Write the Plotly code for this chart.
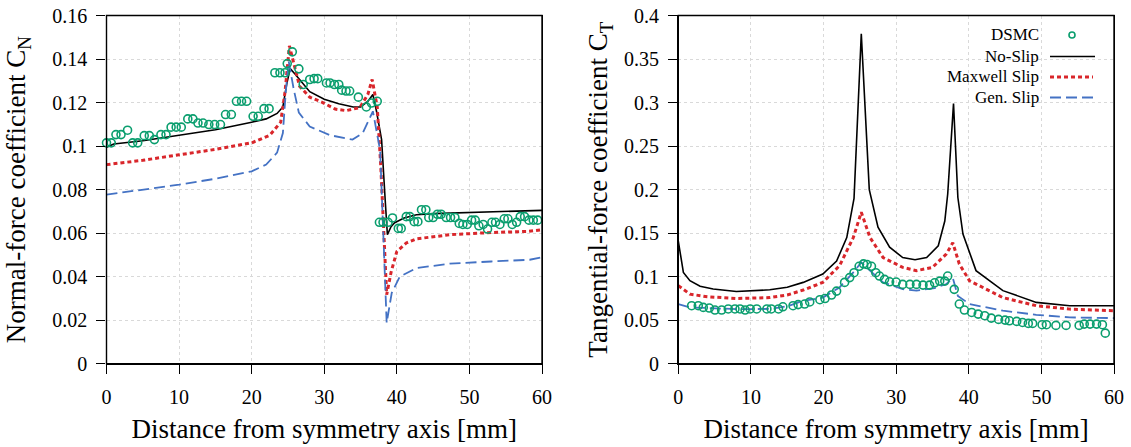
import plotly.graph_objects as go

# ---------------- data: normal-force coefficient (left) ----------------
cn_noslip_x = [0, 1, 5, 10, 15, 20, 22, 23.5, 24.3, 24.8, 25.3, 26, 27, 28, 30, 32, 34, 35, 36, 36.7,
               37.2, 37.9, 38.4, 38.7, 39.2, 39.7, 41, 42.7, 45, 50, 55, 60]
cn_noslip_y = [0.0995, 0.101, 0.1025, 0.105, 0.1075, 0.111, 0.1125, 0.115, 0.118, 0.128, 0.1356, 0.133,
               0.129, 0.125, 0.1215, 0.1195, 0.118, 0.118, 0.1205, 0.1237,
               0.116, 0.103, 0.075, 0.0593, 0.063, 0.0648, 0.067, 0.0685, 0.069, 0.0695, 0.0698, 0.0705]

cn_maxwell_x = [0, 5, 10, 15, 20, 22.5, 24, 24.6, 25.2, 25.8, 26.6, 28, 29.8, 31.5, 33, 34.9, 36, 36.6,
                37.3, 37.8, 38.3, 38.6, 39.2, 40, 41.3, 42.7, 47.3, 53, 58, 60]
cn_maxwell_y = [0.0915, 0.0935, 0.096, 0.0985, 0.1015, 0.105, 0.111, 0.125, 0.146, 0.138, 0.1275, 0.1225,
                0.12, 0.117, 0.1163, 0.1177, 0.1237, 0.1306,
                0.118, 0.09, 0.05, 0.0317, 0.042, 0.0516, 0.0555, 0.0574, 0.0593, 0.0603, 0.0608, 0.0616]

cn_gen_x = [0, 5, 10, 15, 20, 22, 23.5, 24.3, 24.7, 25.1, 25.8, 26.5, 28, 30.8, 33.9, 35.3, 36.7,
            37.7, 38.2, 38.6, 39.3, 40.4, 42.7, 47.3, 53, 58.3, 60]
cn_gen_y = [0.0777, 0.080, 0.0823, 0.085, 0.0884, 0.0915, 0.097, 0.106, 0.125, 0.139, 0.126, 0.1154,
            0.109, 0.105, 0.103, 0.106, 0.116,
            0.098, 0.055, 0.0188, 0.0326, 0.040, 0.044, 0.046, 0.047, 0.0478, 0.049]

cn_dsmc_x = [0, 0.65, 1.3, 2, 2.9, 3.6, 4.3, 5.2, 5.9, 6.6, 7.5, 8.2, 8.9, 9.6, 10.3, 11.2, 11.9, 12.6,
             13.3, 14.1, 14.9, 15.7, 16.4, 17.2, 17.9, 18.6, 19.3, 20.2, 20.9, 21.7, 22.4, 23.2, 23.9,
             24.6, 24.9, 25.6, 26.5, 27.1, 28, 28.6, 29.1, 30.3, 30.8, 31.4, 32, 32.4, 33, 33.5, 34.7,
             35.8, 36.5, 37.3, 37.6, 38.1, 38.8, 39.4, 40.2, 40.6, 41.3, 41.8, 42.4, 42.9, 43.4, 44,
             44.4, 45, 45.6, 46.1, 46.8, 47.4, 48, 48.6, 49.1, 49.7, 50.3, 50.8, 51.3, 51.9, 52.5, 53.1,
             53.6, 54.2, 54.8, 55.3, 55.9, 56.5, 57, 57.6, 58.2, 58.8, 59.4]
cn_dsmc_y = [0.1015, 0.1015, 0.1053, 0.1053, 0.1073, 0.1015, 0.1015, 0.1048, 0.1048, 0.103, 0.1053,
             0.1053, 0.1087, 0.1087, 0.1087, 0.1125, 0.1125, 0.1106, 0.1106, 0.1099, 0.1099, 0.1099,
             0.1145, 0.1145, 0.1206, 0.1206, 0.1206, 0.1137, 0.1137, 0.1172, 0.1172, 0.1337, 0.1337,
             0.1337, 0.1379, 0.1433, 0.1355, 0.1283, 0.1306, 0.131, 0.131, 0.129, 0.129, 0.1283, 0.1283,
             0.1257, 0.1253, 0.1253, 0.1225, 0.118, 0.1198, 0.1206, 0.065, 0.065, 0.065, 0.067, 0.0622,
             0.0622, 0.0676, 0.0676, 0.0653, 0.0653, 0.0708, 0.0708, 0.0672, 0.0672, 0.0687, 0.0687,
             0.0672, 0.0672, 0.0672, 0.0645, 0.064, 0.064, 0.066, 0.066, 0.0634, 0.064, 0.0619, 0.065,
             0.065, 0.064, 0.0666, 0.0666, 0.064, 0.065, 0.0676, 0.0676, 0.066, 0.066, 0.066]

# ---------------- data: tangential-force coefficient (right) ----------------
ct_noslip_x = [0, 0.7, 1.6, 3, 4.8, 8, 12.6, 15, 17.2, 19.9, 21.8, 23.2, 24.2, 25.2, 26.3, 27.5, 29.1,
               30.9, 32.6, 34.2, 35.8, 36.7, 37.1, 37.9, 38.5, 39.2, 41, 44.7, 49.3, 53.9, 60]
ct_noslip_y = [0.141, 0.105, 0.0954, 0.089, 0.086, 0.083, 0.085, 0.088, 0.0935, 0.103, 0.118, 0.145,
               0.19, 0.379, 0.2, 0.157, 0.134, 0.122, 0.1195, 0.122, 0.1356, 0.164, 0.195, 0.299,
               0.191, 0.149, 0.107, 0.084, 0.0705, 0.0667, 0.0667]

ct_maxwell_x = [0, 1.6, 4, 8, 12.6, 15, 17.2, 19.9, 22.2, 24.1, 25.2, 26.4, 28.2, 30.9, 32.8, 35, 36.9,
                37.8, 38.7, 40.1, 44.7, 49.3, 53.9, 60]
ct_maxwell_y = [0.0897, 0.080, 0.077, 0.075, 0.076, 0.079, 0.0847, 0.0935, 0.1126, 0.145, 0.174, 0.145,
                0.122, 0.1107, 0.107, 0.1107, 0.126, 0.139, 0.1146, 0.0954, 0.076, 0.0667, 0.0628, 0.061]

ct_gen_x = [0, 1.6, 8, 12.6, 15, 17.2, 19.9, 22.2, 24.1, 25.2, 26.4, 28.2, 30.9, 32.8, 35.3, 36.9,
            37.8, 38.5, 40.1, 44.7, 49.3, 53.9, 60]
ct_gen_y = [0.0686, 0.0648, 0.0628, 0.063, 0.066, 0.0724, 0.076, 0.0877, 0.105, 0.1165, 0.107, 0.0935,
            0.0858, 0.084, 0.087, 0.0916, 0.0985, 0.078, 0.0686, 0.061, 0.0563, 0.0533, 0.0525]

ct_dsmc_x = [1.84, 2.75, 3.44, 4.27, 5.05, 5.97, 6.88, 7.8, 8.5, 9.2, 9.9, 10.8, 12.2, 12.8, 13.8, 14.4,
             15.8, 16.5, 17.4, 18.1, 19.5, 20.2, 21.1, 21.8, 22.9, 23.6, 24.2, 24.9, 25.5, 26, 26.6,
             27.2, 27.7, 28.4, 29.1, 30, 30.9, 31.9, 32.8, 33.7, 34.6, 35.3, 36, 36.7, 37.1, 38, 38.7,
             39.4, 40.4, 41.3, 42.2, 43.1, 44.1, 45, 45.6, 46.6, 47.4, 48.2, 48.8, 50.1, 50.7, 52, 53.4,
             55.2, 55.9, 56.7, 57.6, 58.4, 58.8]
ct_dsmc_y = [0.0667, 0.0667, 0.0648, 0.064, 0.0617, 0.0617, 0.063, 0.063, 0.063, 0.0617, 0.063, 0.063,
             0.063, 0.063, 0.063, 0.0655, 0.0667, 0.068, 0.0686, 0.071, 0.0736, 0.075, 0.079, 0.0835,
             0.0935, 0.099, 0.1046, 0.112, 0.1148, 0.114, 0.112, 0.1046, 0.1008, 0.097, 0.0942, 0.0939,
             0.0912, 0.0912, 0.0912, 0.0904, 0.0904, 0.093, 0.095, 0.095, 0.1008, 0.0855, 0.0686, 0.0617,
             0.059, 0.0571, 0.0552, 0.0525, 0.051, 0.0502, 0.0494, 0.0487, 0.0475, 0.0464, 0.0464, 0.0449,
             0.0449, 0.0441, 0.0441, 0.0441, 0.0456, 0.0456, 0.0456, 0.0449, 0.0352]

x_ticks = [0, 10, 20, 30, 40, 50, 60]
cn_ticks = [0, 0.02, 0.04, 0.06, 0.08, 0.1, 0.12, 0.14, 0.16]
cn_ticktext = ["0", "0.02", "0.04", "0.06", "0.08", "0.1", "0.12", "0.14", "0.16"]
ct_ticks = [0, 0.05, 0.1, 0.15, 0.2, 0.25, 0.3, 0.35, 0.4]
ct_ticktext = ["0", "0.05", "0.1", "0.15", "0.2", "0.25", "0.3", "0.35", "0.4"]

series_names = ["DSMC", "No-Slip", "Maxwell Slip", "Gen. Slip"]
x_title = "Distance from symmetry axis [mm]"
cn_title = "Normal-force coefficient C<sub>N</sub>"
ct_title = "Tangential-force coefficient C<sub>T</sub>"

# ---------------- styling ----------------
W, H = 1131, 447
FONT = "Liberation Serif, Times New Roman, serif"
GREEN = "#0a9e6e"
RED = "#d9262b"
BLUE = "#4472c4"
BLACK = "#000000"


def px(xp):
    return xp / W


def py(yp):
    return 1 - yp / H


fig = go.Figure()

panels = [
    ("x", "y", cn_dsmc_x, cn_dsmc_y, cn_noslip_x, cn_noslip_y, cn_maxwell_x, cn_maxwell_y, cn_gen_x, cn_gen_y),
    ("x2", "y2", ct_dsmc_x, ct_dsmc_y, ct_noslip_x, ct_noslip_y, ct_maxwell_x, ct_maxwell_y, ct_gen_x, ct_gen_y),
]
for xa, ya, dx, dy, nx, ny, mx, my, gx, gy in panels:
    fig.add_trace(go.Scatter(x=nx, y=ny, mode="lines", name=series_names[1], xaxis=xa, yaxis=ya,
                             line=dict(color=BLACK, width=1.6), showlegend=False))
    fig.add_trace(go.Scatter(x=mx, y=my, mode="lines", name=series_names[2], xaxis=xa, yaxis=ya,
                             line=dict(color=RED, width=3, dash="4px,3px"), showlegend=False))
    fig.add_trace(go.Scatter(x=gx, y=gy, mode="lines", name=series_names[3], xaxis=xa, yaxis=ya,
                             line=dict(color=BLUE, width=1.8, dash="11px,5px"), showlegend=False))
    fig.add_trace(go.Scatter(x=dx, y=dy, mode="markers", name=series_names[0], xaxis=xa, yaxis=ya,
                             marker=dict(symbol="circle-open", size=8, color=GREEN, line=dict(width=1.6, color=GREEN)),
                             showlegend=False, cliponaxis=False))

# axis geometry (pixels)
left_x0, left_x1 = 106.5, 542
right_x0, right_x1 = 678.3, 1114
top_y, bot_y = 15.5, 363.8

title_font = dict(family=FONT, size=27, color="black")
common_x = dict(range=[0, 60], tickvals=x_ticks, ticks="outside", ticklen=9, tickwidth=1, tickcolor="black",
                showline=True, linecolor="black", linewidth=1.4, mirror=True, automargin=True,
                showgrid=True, gridcolor="#d9d9d9", griddash="dot", gridwidth=1,
                zeroline=False, tickfont=dict(family=FONT, size=20, color="black"),
                ticklabelstandoff=6,
                fixedrange=True, title=dict(text=x_title, font=title_font, standoff=12))
common_y = dict(ticks="outside", ticklen=9, tickwidth=1, tickcolor="black",
                showline=True, linecolor="black", linewidth=1.4, mirror=True, automargin=True,
                showgrid=True, gridcolor="#d9d9d9", griddash="dot", gridwidth=1,
                zeroline=False, tickfont=dict(family=FONT, size=20, color="black"),
                ticklabelstandoff=5,
                fixedrange=True)

fig.update_layout(
    template="none",
    width=W, height=H,
    margin=dict(l=0, r=0, t=0, b=0, pad=0, autoexpand=False),
    paper_bgcolor="white", plot_bgcolor="white",
    font=dict(family=FONT, color="black"),
    showlegend=False,
    xaxis=dict(domain=[px(left_x0), px(left_x1)], anchor="y", **common_x),
    yaxis=dict(domain=[py(bot_y), py(top_y)], anchor="x", range=[0, 0.16], tickvals=cn_ticks,
               ticktext=cn_ticktext, title=dict(text=cn_title, font=title_font, standoff=18), **common_y),
    xaxis2=dict(domain=[px(right_x0), px(right_x1)], anchor="y2", **common_x),
    yaxis2=dict(domain=[py(bot_y), py(top_y)], anchor="x2", range=[0, 0.4], tickvals=ct_ticks,
                ticktext=ct_ticktext, title=dict(text=ct_title, font=title_font, standoff=8), **common_y),
)

annotations = []
# manual legend (text to the left of the symbol)
leg_y = [35, 56.5, 77, 97.5]
for name, yy in zip(series_names, leg_y):
    annotations.append(dict(x=px(1041), y=py(yy), xref="paper", yref="paper", text=name, showarrow=False,
                            font=dict(family=FONT, size=17, color="black"), xanchor="right", yanchor="middle"))
fig.update_layout(annotations=annotations)

shapes = [
    dict(type="rect", xref="paper", yref="paper", x0=px(928), x1=px(1103), y0=py(25), y1=py(106),
         fillcolor="white", line=dict(width=0), layer="between"),
    dict(type="circle", xref="paper", yref="paper", x0=px(1069), x1=px(1075), y0=py(38), y1=py(32),
         line=dict(color=GREEN, width=1.6), fillcolor="rgba(0,0,0,0)"),
    dict(type="line", xref="paper", yref="paper", x0=px(1050), x1=px(1095), y0=py(leg_y[1]), y1=py(leg_y[1]),
         line=dict(color=BLACK, width=1.6)),
    dict(type="line", xref="paper", yref="paper", x0=px(1050), x1=px(1093), y0=py(leg_y[2]), y1=py(leg_y[2]),
         line=dict(color=RED, width=3, dash="4px,3px")),
    dict(type="line", xref="paper", yref="paper", x0=px(1050), x1=px(1095), y0=py(leg_y[3]), y1=py(leg_y[3]),
         line=dict(color=BLUE, width=1.8, dash="11px,5px")),
    # plot frames
    dict(type="rect", xref="paper", yref="paper", x0=px(left_x0), x1=px(left_x1), y0=py(bot_y), y1=py(top_y),
         line=dict(color="black", width=1.4), fillcolor="rgba(0,0,0,0)", layer="above"),
    dict(type="rect", xref="paper", yref="paper", x0=px(right_x0), x1=px(right_x1), y0=py(bot_y), y1=py(top_y),
         line=dict(color="black", width=1.4), fillcolor="rgba(0,0,0,0)", layer="above"),
]
fig.update_layout(shapes=shapes)

fig.write_html("out.html")
